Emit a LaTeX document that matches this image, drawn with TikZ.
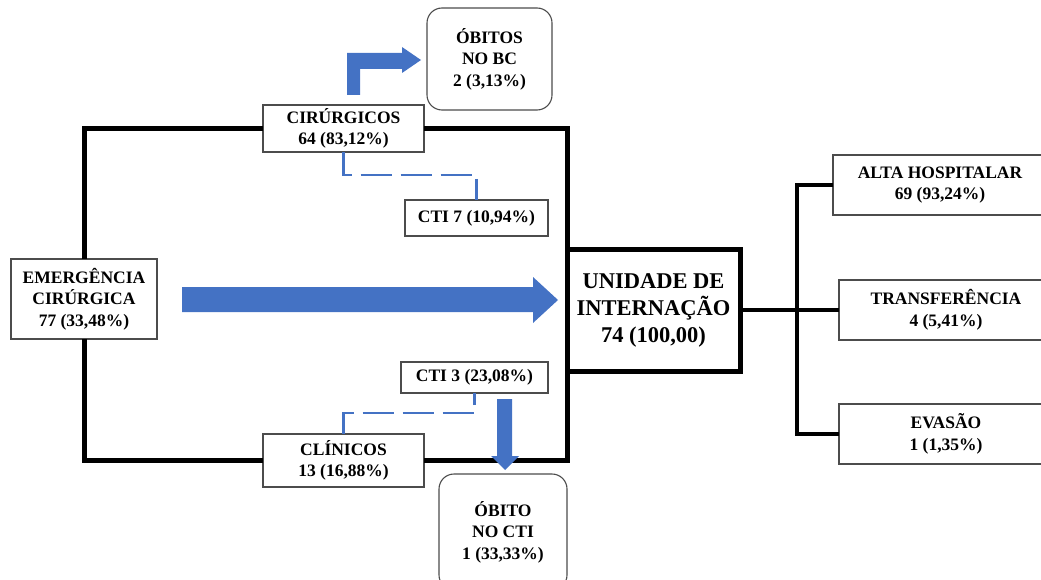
\documentclass[tikz,border=0pt]{standalone}
\usepackage{fontspec}
\setmainfont{Liberation Serif}
\usetikzlibrary{calc}
\definecolor{flowblue}{HTML}{4472C4}
\newcommand\lblfont{\fontsize{17.5}{21.5}\selectfont\bfseries}
\newcommand\bigfont{\fontsize{22.5}{27}\selectfont\bfseries}
\tikzset{
  box/.style={draw=black!70, line width=1.1pt, fill=white, align=center,
    inner sep=0pt, outer sep=0pt, font=\lblfont, text=black},
  roundbox/.style={box, rounded corners=15pt},
  mainbox/.style={draw=black, line width=5pt, fill=white, align=center,
    inner sep=0pt, outer sep=0pt, font=\bigfont, text=black},
  frame/.style={draw=black, line width=5pt},
  tree/.style={draw=black, line width=3.5pt},
  link/.style={draw=flowblue, line width=2.6pt, dash pattern=on 31pt off 9pt},
  fat/.style={fill=flowblue, draw=none}
}
\begin{document}
\begin{tikzpicture}[x=1pt, y=-1pt]
\useasboundingbox (0,0) rectangle (1041,580);

% patient groups and outcomes
\node[box, minimum width=146pt, minimum height=80pt] (emg) at (84,299)
  {EMERGÊNCIA\\CIRÚRGICA\\77 (33,48\%)};
\node[box, minimum width=161pt, minimum height=47pt] (cir) at (343.5,128.5)
  {CIRÚRGICOS\\64 (83,12\%)};
\node[box, minimum width=161pt, minimum height=53pt] (cli) at (343.5,460.5)
  {CLÍNICOS\\13 (16,88\%)};
\node[box, minimum width=143pt, minimum height=36pt] (cti7) at (476.5,218)
  {CTI 7 (10,94\%)};
\node[box, minimum width=147pt, minimum height=31pt] (cti3) at (474.5,377.5)
  {CTI 3 (23,08\%)};
\node[roundbox, minimum width=125pt, minimum height=102pt] (obc) at (489.5,59)
  {ÓBITOS\\NO BC\\2 (3,13\%)};
\node[roundbox, minimum width=128pt, minimum height=116pt] (octi) at (503,532)
  {ÓBITO\\NO CTI\\1 (33,33\%)};
\node[mainbox, minimum width=173pt, minimum height=122pt] (uni) at (653.5,310)
  {UNIDADE DE\\INTERNAÇÃO\\74 (100,00)};
\node[box, minimum width=214pt, minimum height=60pt] (alt) at (940,185)
  {ALTA HOSPITALAR\\69 (93,24\%)};
\node[box, minimum width=214pt, minimum height=60pt] (tra) at (946,310)
  {TRANSFERÊNCIA\\4 (5,41\%)};
\node[box, minimum width=214pt, minimum height=60pt] (eva) at (946,434)
  {EVASÃO\\1 (1,35\%)};

% thick frame joining the two patient groups to the ward
\draw[frame] (cir.west) -| (emg.north);
\draw[frame] (emg.south) |- (cli.west);
\draw[frame] (cir.east) -| (uni.north west);
\draw[frame] (cli.east) -| (uni.south west);

% ward outcomes
\coordinate (hub) at (797,310);
\draw[tree] (uni.east) -- (tra.west);
\draw[tree] (alt.west) -| (hub) |- (eva.west);

% dashed transfers to the intensive care unit
\draw[link] (cir.south) -- ++(0,23) -| (cti7.north);
\draw[link] (cli.north) -- ++(0,-21) -| (cti3.south);

% block arrows
\fill[fat] (182,287) -- (533,287) -- (533,277) -- (558,300) -- (533,323)
  -- (533,312) -- (182,312) -- cycle;
\fill[fat] (347,95) -- (347,53) -- (402,53) -- (402,47) -- (421,60)
  -- (402,73) -- (402,69) -- (360,69) -- (360,95) -- cycle;
\fill[fat] (497,399) -- (512,399) -- (512,456) -- (519,456) -- (505,470)
  -- (491,456) -- (497,456) -- cycle;
\end{tikzpicture}
\end{document}
